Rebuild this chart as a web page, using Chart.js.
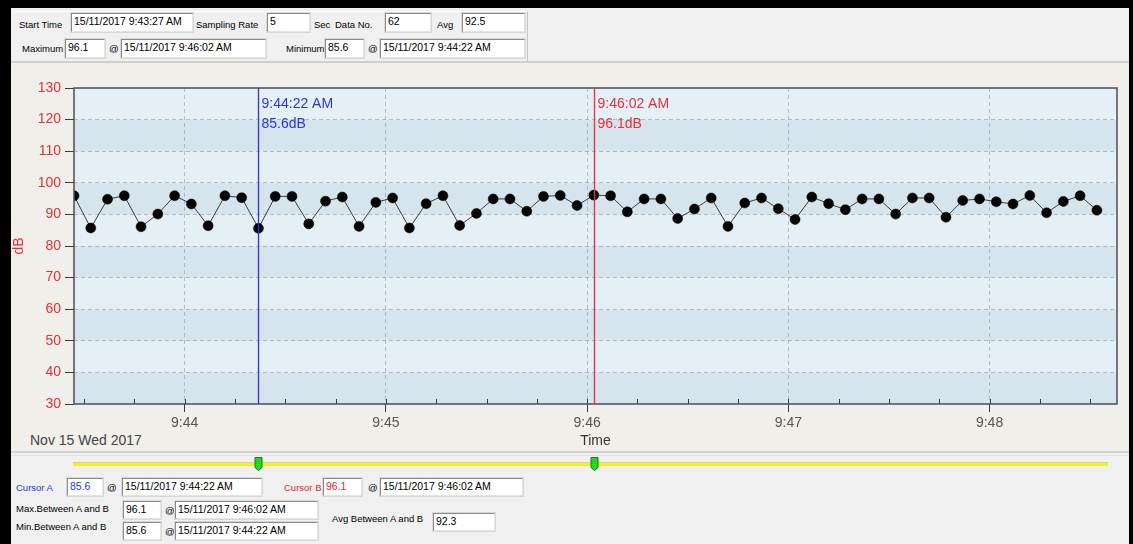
<!DOCTYPE html>
<html><head><meta charset="utf-8">
<script src="https://cdn.jsdelivr.net/npm/chart.js@4.4.1/dist/chart.umd.min.js"></script>
<style>
html,body{margin:0;padding:0;width:1133px;height:544px;overflow:hidden;background:#f0f0f0;font-family:"Liberation Sans",Arial,sans-serif;}
.abs{position:absolute}
#frameL{left:0;top:0;width:11px;height:544px;background:#000}
#frameT{left:0;top:0;width:1133px;height:8px;background:#000}
#frameR{left:1129px;top:0;width:4px;height:544px;background:#000}
#topPanel{left:11px;top:8px;width:1118px;height:53px;background:#f0f0f0;border-bottom:2px solid #cfcfcf}
#group{left:13px;top:11px;width:514px;height:49px;border-right:1px solid #c4c4c4;border-top:1px solid #fff}
#chartBg{left:11px;top:63px;width:1118px;height:388px;background:#f1efea}
#sep1{left:11px;top:451px;width:1118px;height:2px;background:#d2d2d2}
#sep2{left:11px;top:455px;width:1118px;height:1px;background:#e2e2e2}
#slider{left:73px;top:462px;width:1035px;height:3px;background:#f2f21e;border-top:1px solid #d6d67a}
.lbl{position:absolute;font-size:9.5px;line-height:12px;color:#000;white-space:nowrap}
.box{position:absolute;box-sizing:border-box;background:#fff;border:1px solid;border-color:#8a8a8a #e4e4e4 #e4e4e4 #8a8a8a;box-shadow:0 0 0 1px #d8d8d8;font-size:10.5px;line-height:15px;padding-left:2px;white-space:nowrap;overflow:hidden;color:#000}
#dateLbl{left:30px;top:432px;font-size:14px;color:#444;white-space:nowrap}
#c{position:absolute;left:0;top:0}
</style></head>
<body>
<div class="abs" id="frameL"></div><div class="abs" id="frameT"></div><div class="abs" id="frameR"></div>
<div class="abs" id="topPanel"></div><div class="abs" id="group"></div>
<div class="abs" id="chartBg"></div>
<div class="abs" id="sep1"></div><div class="abs" id="sep2"></div>
<div class="abs" id="slider"></div>
<div class="abs" id="dateLbl">Nov 15 Wed 2017</div>
<div id="forms"></div>
<canvas id="c" width="1133" height="544"></canvas>
<script>
// ---- data ----
const startTime = '9:43:27';
const samplingRate = 5; // seconds
const levels = [95.9,85.7,94.8,95.9,86.1,90.1,95.9,93.3,86.4,95.9,95.3,85.6,95.7,95.7,87.0,94.2,
  95.5,86.2,93.8,95.2,85.7,93.4,95.9,86.5,90.3,94.9,94.9,91.0,95.7,96.0,92.8,96.1,
  95.9,90.8,94.9,94.9,88.7,91.7,95.2,86.2,93.6,95.2,91.8,88.4,95.5,93.4,91.5,94.9,94.9,
  90.1,95.2,95.2,89.1,94.4,94.9,94.0,93.3,96.0,90.5,94.1,95.9,91.3];
const xTickLabels = ['9:44','9:45','9:46','9:47','9:48'];
const yTicks = [30,40,50,60,70,80,90,100,110,120,130];
const xAxisEnd = '9:48:38';
const cursorA = {time:'9:44:22', label:'9:44:22 AM', value:85.6};
const cursorB = {time:'9:46:02', label:'9:46:02 AM', value:96.1};
const summary = {start:'15/11/2017 9:43:27 AM', rate:'5', count:'62', avg:'92.5',
  max:'96.1', maxAt:'15/11/2017 9:46:02 AM', min:'85.6', minAt:'15/11/2017 9:44:22 AM',
  curA:'85.6', curAAt:'15/11/2017 9:44:22 AM', curB:'96.1', curBAt:'15/11/2017 9:46:02 AM',
  maxAB:'96.1', maxABAt:'15/11/2017 9:46:02 AM', minAB:'85.6', minABAt:'15/11/2017 9:44:22 AM', avgAB:'92.3'};

function toSec(t){const p=t.split(':').map(Number);return p[0]*3600+p[1]*60+(p[2]||0);}
const t0 = toSec(startTime);
const points = levels.map((v,i)=>({x:t0+i*samplingRate, y:v}));

// ---- form panels ----
const forms = document.getElementById('forms');
function lbl(text,x,y,color){const d=document.createElement('div');d.className='lbl';d.textContent=text;d.style.left=x+'px';d.style.top=y+'px';if(color)d.style.color=color;forms.appendChild(d);}
function box(text,x,y,w,h,color){const d=document.createElement('div');d.className='box';d.textContent=text;d.style.left=x+'px';d.style.top=y+'px';d.style.width=w+'px';d.style.height=h+'px';if(color)d.style.color=color;forms.appendChild(d);}
lbl('Start Time',19,19); box(summary.start,71,13,122,19);
lbl('Sampling Rate',196,19); box(summary.rate,267,13,43,19);
lbl('Sec',314,19); lbl('Data No.',335,19); box(summary.count,385,13,46,19);
lbl('Avg',437,19); box(summary.avg,462,13,63,19);
lbl('Maximum',22,43); box(summary.max,65,39,40,19); lbl('@',109,43); box(summary.maxAt,121,39,145,19);
lbl('Minimum',286,43); box(summary.min,325,39,39,19); lbl('@',368,43); box(summary.minAt,380,39,145,19);
const BLUE='#2637d6', RED='#e5252e';
lbl('Cursor A',16,482,BLUE); box(summary.curA,67,478,36,18,BLUE); lbl('@',107,482); box(summary.curAAt,122,478,140,18);
lbl('Cursor B',284,482,RED); box(summary.curB,323,478,39,18,RED); lbl('@',368,482); box(summary.curBAt,380,478,143,18);
lbl('Max.Between A and B',16,503); box(summary.maxAB,123,501,38,18); lbl('@',165,505); box(summary.maxABAt,175,501,143,18);
lbl('Min.Between A and B',16,521); box(summary.minAB,123,522,38,18); lbl('@',165,526); box(summary.minABAt,175,522,143,18);
lbl('Avg Between A and B',332,513); box(summary.avgAB,433,513,62,18);

// ---- chart ----
Chart.defaults.font.family = "'Liberation Sans', Arial, sans-serif";
const GRID = 'rgba(130,140,150,0.5)';
const overlay = {
  id:'overlay',
  beforeDraw(chart){
    const {ctx, chartArea:a, scales:{y}} = chart;
    ctx.save();
    for(let i=0;i<yTicks.length-1;i++){
      const y0=y.getPixelForValue(yTicks[i]), y1=y.getPixelForValue(yTicks[i+1]);
      ctx.fillStyle = ((yTicks.length-2-i)%2===0) ? '#e4eff6' : '#d6e4ed';
      ctx.fillRect(a.left,y1,a.right-a.left,y0-y1);
    }
    ctx.restore();
  },
  afterDraw(chart){
    const {ctx, chartArea:a, scales:{x}} = chart;
    ctx.save();
    // inner tick marks every 15 s
    ctx.strokeStyle='#3a3a3a'; ctx.lineWidth=1;
    for(let s=Math.ceil(x.min/15)*15; s<=x.max; s+=15){
      const px=Math.round(x.getPixelForValue(s))+0.5;
      ctx.beginPath(); ctx.moveTo(px,a.bottom-5); ctx.lineTo(px,a.bottom); ctx.stroke();
    }
    // frame
    ctx.strokeStyle='#4a4f55'; ctx.lineWidth=1.5;
    ctx.strokeRect(a.left,a.top,a.right-a.left,a.bottom-a.top);
    // cursors
    [[cursorA,'#2a35e0'],[cursorB,'#e8303a']].forEach(([c,col])=>{
      const px=Math.round(x.getPixelForValue(toSec(c.time)))+0.5;
      ctx.strokeStyle=col; ctx.lineWidth=1.3;
      ctx.beginPath(); ctx.moveTo(px,a.top); ctx.lineTo(px,a.bottom); ctx.stroke();
      ctx.fillStyle=col; ctx.font="14px 'Liberation Sans', Arial, sans-serif"; ctx.textBaseline='middle'; ctx.textAlign='left';
      ctx.fillText(c.label,px+3,a.top+16);
      ctx.fillText(c.value.toFixed(1)+'dB',px+3,a.top+36);
      // slider marker
      const mx=px; ctx.fillStyle='#18e018'; ctx.strokeStyle='#2a6a2a'; ctx.lineWidth=1;
      ctx.beginPath(); ctx.moveTo(mx-3.5,457.5); ctx.lineTo(mx+3.5,457.5); ctx.lineTo(mx+3.5,467.5); ctx.lineTo(mx,470.5); ctx.lineTo(mx-3.5,467.5); ctx.closePath();
      ctx.fill(); ctx.stroke();
    });
    ctx.restore();
  }
};

new Chart(document.getElementById('c'), {
  type:'line',
  data:{datasets:[{data:points, borderColor:'#3c3c3c', borderWidth:1, pointRadius:5, pointBackgroundColor:'#050505', pointBorderColor:'#000', pointBorderWidth:0.5, tension:0}]},
  options:{
    responsive:false, animation:false, devicePixelRatio:1,
    layout:{padding:{left:0, top:88, right:16, bottom:92}},
    plugins:{legend:{display:false}, tooltip:{enabled:false}},
    scales:{
      x:{type:'linear', min:t0, max:toSec(xAxisEnd),
        afterBuildTicks:(s)=>{s.ticks=xTickLabels.map(t=>({value:toSec(t)}));},
        afterFit:(s)=>{s.height=48;},
        ticks:{autoSkip:false, maxRotation:0, padding:3, color:'#555', font:{size:14}, callback:(v,i)=>xTickLabels[i]},
        grid:{color:GRID, tickColor:'#3a3a3a', tickLength:8, tickWidth:1},
        border:{display:false, dash:[4,3]},
        title:{display:true, text:'Time', color:'#333', font:{size:14}, padding:{top:0,bottom:2}}
      },
      y:{min:yTicks[0], max:yTicks[yTicks.length-1],
        afterBuildTicks:(s)=>{s.ticks=yTicks.map(v=>({value:v}));},
        afterFit:(s)=>{s.width=74;},
        ticks:{padding:4, color:'#e5303a', font:{size:14}},
        grid:{color:(c)=>(c.tick&&(c.tick.value===yTicks[0]||c.tick.value===yTicks[yTicks.length-1]))?'rgba(0,0,0,0)':GRID, tickColor:'#3a3a3a', tickLength:9, tickWidth:1},
        border:{display:false, dash:[4,3]},
        title:{display:true, text:'dB', color:'#e5303a', font:{size:14}, padding:{top:11,bottom:0}}
      }
    }
  },
  plugins:[overlay]
});
</script>
</body></html>
